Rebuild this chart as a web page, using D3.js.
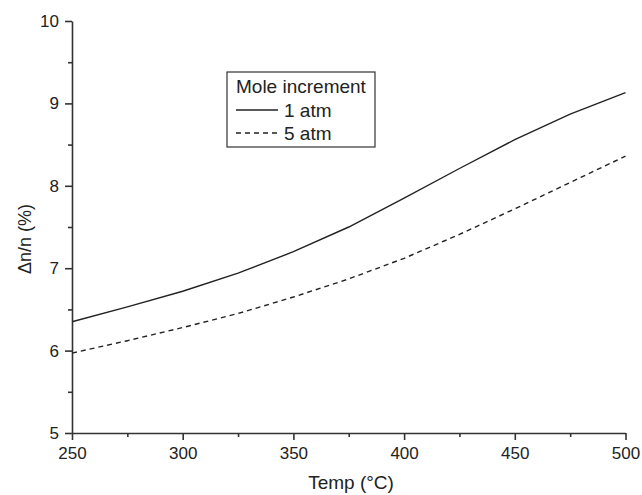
<!DOCTYPE html>
<html>
<head>
<meta charset="utf-8">
<script src="https://cdn.jsdelivr.net/npm/d3@7"></script>
<style>
  body { margin: 0; background: #fff; }
  svg text { font-family: "Liberation Sans", Arial, sans-serif; fill: #222; }
</style>
</head>
<body>
<div id="chart"></div>
<script>
const temps = [250, 275, 300, 325, 350, 375, 400, 425, 450, 475, 500];
const atm1 = [6.35, 6.53, 6.72, 6.94, 7.2, 7.5, 7.85, 8.21, 8.56, 8.87, 9.13];
const atm5 = [5.97, 6.12, 6.28, 6.45, 6.65, 6.87, 7.12, 7.41, 7.72, 8.04, 8.36];
const xTicks = [250, 300, 350, 400, 450, 500];
const yTicks = [5, 6, 7, 8, 9, 10];
const legendTitle = "Mole increment";
const seriesNames = ["1 atm", "5 atm"];

const width = 642;
const height = 495;
const margin = { top: 21, right: 16, bottom: 62, left: 72 };

const svg = d3.select("#chart")
  .append("svg")
  .attr("width", width)
  .attr("height", height);

const x = d3.scaleLinear()
  .domain([250, 500])
  .range([margin.left, width - margin.right - 0.5]);

const y = d3.scaleLinear()
  .domain([5, 10])
  .range([height - margin.bottom, margin.top]);

const axisColor = "#333";

// minor ticks halfway between the labelled ones
const xMinor = d3.range(275, 500, 50);
const yMinor = d3.range(5.5, 10, 1);

svg.append("g")
  .attr("transform", `translate(0,${y(5)})`)
  .call(d3.axisBottom(x).tickValues(xTicks).tickFormat(d3.format("d"))
    .tickSize(7).tickPadding(7).tickSizeOuter(0));

svg.append("g")
  .attr("transform", `translate(0,${y(5)})`)
  .call(d3.axisBottom(x).tickValues(xMinor).tickSize(4).tickFormat("").tickSizeOuter(0))
  .call(g => g.select(".domain").remove());

svg.append("g")
  .attr("transform", `translate(${x(250)},0)`)
  .call(d3.axisLeft(y).tickValues(yTicks).tickFormat(d3.format("d"))
    .tickSize(7).tickPadding(6).tickSizeOuter(0));

svg.append("g")
  .attr("transform", `translate(${x(250)},0)`)
  .call(d3.axisLeft(y).tickValues(yMinor).tickSize(4).tickFormat("").tickSizeOuter(0))
  .call(g => g.select(".domain").remove());

svg.selectAll(".domain, .tick line")
  .attr("stroke", axisColor)
  .attr("stroke-width", 1.6);

svg.selectAll(".tick text")
  .attr("font-size", 17)
  .attr("fill", "#222");

// axis titles
svg.append("text")
  .attr("x", 351)
  .attr("y", 489)
  .attr("text-anchor", "middle")
  .attr("font-size", 19)
  .text("Temp (°C)");

svg.append("text")
  .attr("transform", "translate(31,239) rotate(-90)")
  .attr("text-anchor", "middle")
  .attr("font-size", 18)
  .text("Δn/n (%)");

// lines
const line = d3.line()
  .x((d, i) => x(temps[i]))
  .y(d => y(d));

svg.append("path")
  .datum(atm1)
  .attr("fill", "none")
  .attr("stroke", "#222")
  .attr("stroke-width", 1.4)
  .attr("d", line);

svg.append("path")
  .datum(atm5)
  .attr("fill", "none")
  .attr("stroke", "#222")
  .attr("stroke-width", 1.4)
  .attr("stroke-dasharray", "5,4")
  .attr("d", line);

// legend
const lg = svg.append("g").attr("transform", "translate(227,72)");
lg.append("rect")
  .attr("width", 148)
  .attr("height", 75)
  .attr("fill", "#fff")
  .attr("stroke", "#333")
  .attr("stroke-width", 1.2);

lg.append("text")
  .attr("x", 9)
  .attr("y", 21)
  .attr("font-size", 19)
  .text(legendTitle);

const dashes = [null, "5,4"];
seriesNames.forEach((name, i) => {
  const yy = 38 + i * 23;
  lg.append("line")
    .attr("x1", 9)
    .attr("x2", 51)
    .attr("y1", yy)
    .attr("y2", yy)
    .attr("stroke", "#222")
    .attr("stroke-width", 1.4)
    .attr("stroke-dasharray", dashes[i]);
  lg.append("text")
    .attr("x", 57)
    .attr("y", yy + 7)
    .attr("font-size", 19)
    .text(name);
});
</script>
</body>
</html>
